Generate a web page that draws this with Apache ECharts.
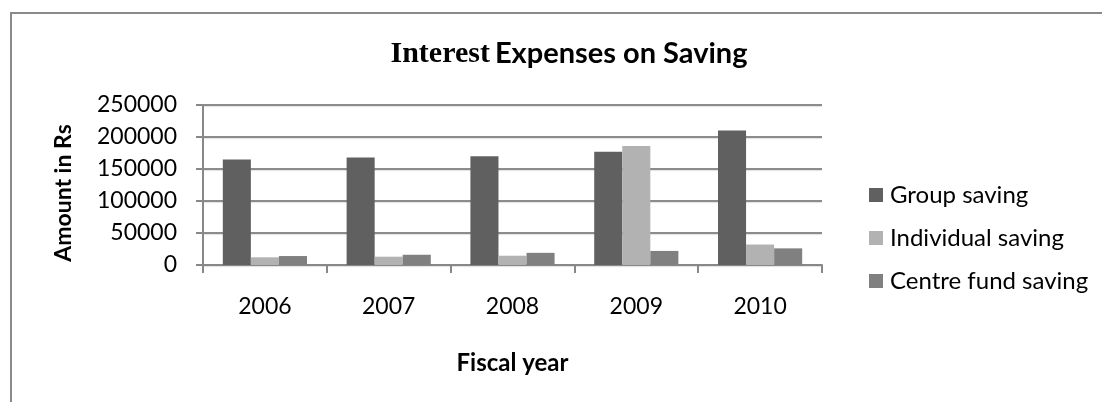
<!DOCTYPE html>
<html>
<head>
<meta charset="utf-8">
<script src="https://cdn.jsdelivr.net/npm/echarts@6/dist/echarts.min.js"></script>
<style>
  html, body { margin: 0; padding: 0; background: #fff; }
  #chart { width: 1102px; height: 402px; }
</style>
</head>
<body>
<div id="chart"></div>
<script>
// Fiscal years on the category axis
const years = ['2006', '2007', '2008', '2009', '2010'];

// Interest expenses (Rs) per saving type
const groupSaving = [165000, 168000, 170000, 177000, 210000];
const individualSaving = [12000, 13000, 14500, 186000, 32000];
const centreFundSaving = [14000, 16000, 19000, 22000, 26000];

const seriesNames = ['Group saving', 'Individual saving', 'Centre fund saving'];
const seriesColors = ['#606060', '#b2b2b2', '#808080'];

// Value axis range and step
const yMin = 0;
const yMax = 250000;
const yStep = 50000;

const FONT = 'Lato, "Open Sans", sans-serif';

const chart = echarts.init(document.getElementById('chart'));

const values = [groupSaving, individualSaving, centreFundSaving];

chart.setOption({
  animation: false,
  backgroundColor: '#ffffff',
  title: {
    text: '{serif|Interest} {sans|Expenses on Saving}',
    left: 564,
    textAlign: 'center',
    top: 34,
    textStyle: {
      rich: {
        serif: { fontFamily: '"Liberation Serif", serif', fontWeight: 'bold', fontSize: 30, color: '#000' },
        sans: { fontFamily: FONT, fontWeight: 'bold', fontSize: 29, color: '#000' }
      }
    }
  },
  legend: {
    orient: 'vertical',
    left: 864,
    top: 178,
    itemWidth: 14,
    itemHeight: 14,
    itemGap: 19,
    icon: 'rect',
    data: seriesNames,
    textStyle: { fontFamily: FONT, fontSize: 24, color: '#000', padding: [0, 0, 0, 2] }
  },
  grid: { left: 203, right: 280, top: 105, bottom: 137, containLabel: false },
  xAxis: {
    type: 'category',
    data: years,
    name: 'Fiscal year',
    nameLocation: 'middle',
    nameGap: 86,
    nameTextStyle: { fontFamily: FONT, fontWeight: 'bold', fontSize: 24, color: '#000' },
    axisLine: { lineStyle: { color: '#888', width: 2 } },
    axisTick: { show: true, length: 8, lineStyle: { color: '#888', width: 2 } },
    axisLabel: { fontFamily: FONT, fontSize: 23, color: '#000', margin: 30 }
  },
  yAxis: {
    type: 'value',
    min: yMin,
    max: yMax,
    interval: yStep,
    name: 'Amount in Rs',
    nameLocation: 'middle',
    nameGap: 128,
    nameRotate: 90,
    nameTextStyle: {
      fontFamily: FONT,
      fontWeight: 'bold',
      fontSize: 23,
      color: '#000',
      padding: [0, 16, 0, 0]
    },
    axisLine: { show: true, lineStyle: { color: '#888', width: 2 } },
    axisTick: { show: true, length: 7, lineStyle: { color: '#888', width: 2 } },
    axisLabel: {
      fontFamily: FONT,
      fontSize: 23,
      color: '#000',
      margin: 26,
      formatter: (v) => String(v)
    },
    splitLine: {
      show: true,
      lineStyle: { color: '#8c8c8c', width: 2, shadowColor: 'rgba(0,0,0,0.12)', shadowOffsetY: 1, shadowBlur: 1 }
    }
  },
  graphic: [
    {
      type: 'rect',
      shape: { x: 11, y: 13, width: 1200, height: 500 },
      style: { fill: 'none', stroke: '#8a8a8a', lineWidth: 2 },
      silent: true
    }
  ],
  series: seriesNames.map((name, i) => ({
    name: name,
    type: 'bar',
    data: values[i],
    barGap: '0%',
    barCategoryGap: '32%',
    itemStyle: { color: seriesColors[i] }
  }))
});
</script>
</body>
</html>
